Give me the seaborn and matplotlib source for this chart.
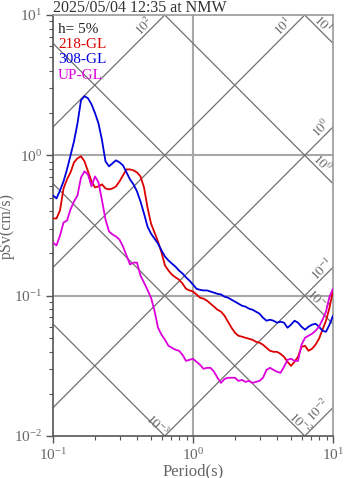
import numpy as np
import pandas as pd
import matplotlib
matplotlib.use("Agg")
import matplotlib.pyplot as plt
import seaborn as sns

# ---------------- data ----------------
period = [0.1, 0.1059, 0.1122, 0.1189, 0.1259, 0.1334, 0.1413, 0.1496, 0.1585, 0.1679,
          0.1778, 0.1884, 0.1995, 0.2113, 0.2239, 0.2371, 0.2512, 0.2661, 0.2818, 0.2985,
          0.3162, 0.3350, 0.3548, 0.3758, 0.3981, 0.4217, 0.4467, 0.4732, 0.5012, 0.5309,
          0.5623, 0.5957, 0.6310, 0.6683, 0.7079, 0.7499, 0.7943, 0.8414, 0.8913, 0.9441,
          1.0, 1.059, 1.122, 1.189, 1.259, 1.334, 1.413, 1.496, 1.585, 1.679,
          1.778, 1.884, 1.995, 2.113, 2.239, 2.371, 2.512, 2.661, 2.818, 2.985,
          3.162, 3.350, 3.548, 3.758, 3.981, 4.217, 4.467, 4.732, 5.012, 5.309,
          5.623, 5.957, 6.310, 6.683, 7.079, 7.499, 7.943, 8.414, 8.913, 9.441, 10.0]

psv_218 = [0.355, 0.355, 0.405, 0.581, 0.674, 0.756, 0.891, 0.952, 0.984, 0.906,
           0.769, 0.652, 0.591, 0.601, 0.621, 0.581, 0.572, 0.581, 0.601, 0.652,
           0.720, 0.794, 0.794, 0.781, 0.756, 0.708, 0.591, 0.425, 0.327, 0.282,
           0.243, 0.203, 0.164, 0.151, 0.141, 0.135, 0.130, 0.122, 0.112, 0.109,
           0.107, 0.102, 0.0968, 0.0952, 0.0921, 0.0877, 0.0835, 0.0794, 0.0769, 0.0720,
           0.0652, 0.0591, 0.0544, 0.0518, 0.0510, 0.0501, 0.0493, 0.0485, 0.0469, 0.0462,
           0.0447, 0.0425, 0.0405, 0.0398, 0.0398, 0.0385, 0.0367, 0.0338, 0.0316, 0.0338,
           0.0367, 0.0432, 0.0439, 0.0405, 0.0418, 0.0447, 0.0493, 0.0572, 0.0663, 0.0821, 0.109]

psv_308 = [0.518, 0.493, 0.562, 0.652, 0.794, 1.000, 1.26, 1.69, 2.47, 2.64,
           2.55, 2.31, 2.00, 1.69, 1.28, 0.906, 0.835, 0.877, 0.921, 0.891,
           0.848, 0.756, 0.674, 0.621, 0.553, 0.469, 0.385, 0.311, 0.277, 0.255,
           0.235, 0.210, 0.190, 0.178, 0.169, 0.161, 0.151, 0.144, 0.135, 0.128,
           0.120, 0.112, 0.110, 0.109, 0.109, 0.107, 0.105, 0.103, 0.102, 0.0984,
           0.0968, 0.0936, 0.0906, 0.0877, 0.0848, 0.0835, 0.0808, 0.0794, 0.0769, 0.0744,
           0.0696, 0.0663, 0.0674, 0.0663, 0.0642, 0.0652, 0.0642, 0.0591, 0.0621, 0.0663,
           0.0642, 0.0601, 0.0572, 0.0601, 0.0621, 0.0631, 0.0601, 0.0562, 0.0553, 0.0621, 0.0720]

psv_up = [0.239, 0.228, 0.268, 0.332, 0.343, 0.412, 0.469, 0.518, 0.696, 0.769,
          0.732, 0.601, 0.708, 0.642, 0.477, 0.349, 0.287, 0.273, 0.264, 0.251,
          0.224, 0.193, 0.167, 0.172, 0.172, 0.139, 0.124, 0.110, 0.0968, 0.0781,
          0.0591, 0.0527, 0.0485, 0.0439, 0.0425, 0.0412, 0.0405, 0.0379, 0.0343, 0.0349,
          0.0355, 0.0338, 0.0322, 0.0301, 0.0306, 0.0306, 0.0287, 0.0260, 0.0239, 0.0255,
          0.0260, 0.0260, 0.0260, 0.0247, 0.0251, 0.0243, 0.0247, 0.0239, 0.0243, 0.0247,
          0.0260, 0.0296, 0.0306, 0.0296, 0.0287, 0.0282, 0.0311, 0.0349, 0.0355, 0.0343,
          0.0343, 0.0447, 0.0501, 0.0518, 0.0535, 0.0562, 0.0601, 0.0674, 0.0769, 0.0984, 0.112]

components = ["218-GL", "308-GL", "UP-GL"]
colors = ["#dd0000", "#0000dd", "#dd00dd"]
title = "2025/05/04 12:35 at NMW"
damping_text = "h= 5%"

# tripartite reference lines
disp_levels = [1e-3, 1e-2, 1e-1, 1e0, 1e1]     # cm  (Sv = 2*pi*Sd/T)
acc_levels = [1e-2, 1e-1, 1e0, 1e1, 1e2]       # gal (Sv = Sa*T/(2*pi))
disp_label_text = [r"$10^{-3}$", r"$10^{-2}$", r"$10^{-1}$", r"$10^{0}$", r"$10^{1}$"]
disp_label_T = [0.553, 5.81, 7.81, 8.35, 8.35]
disp_label_Sv = [0.0118, 0.0122, 0.0921, 0.877, 8.62]
acc_label_text = [r"$10^{-2}$", r"$10^{-1}$", r"$10^{0}$", r"$10^{1}$", r"$10^{2}$"]
acc_label_T = [7.94, 8.35, 8.21, 4.39, 0.447]
acc_label_Sv = [0.0153, 0.153, 1.56, 8.21, 8.35]

# ---------------- style ----------------
sns.set_style("ticks")
plt.rcParams["font.family"] = ["Liberation Serif", "DejaVu Serif"]
plt.rcParams["mathtext.fontset"] = "stix"

gray_txt = "#666666"
fig = plt.figure(figsize=(3.47, 4.78), dpi=100)
ax = fig.add_axes([53 / 347, 1 - 436 / 478, 280 / 347, 421 / 478])
ax.set_xscale("log")
ax.set_yscale("log")

# grid lines
for v in [1.0]:
    ax.axvline(v, color="#a8a8a8", lw=1.5, zorder=1)
for h in [1.0, 0.1]:
    ax.axhline(h, color="#a8a8a8", lw=1.5, zorder=1)

# tripartite lines
Tl = np.array([0.01, 100.0])
for sd in disp_levels:
    ax.plot(Tl, 2 * np.pi * sd / Tl, color="#707070", lw=0.9, zorder=2)
for sa in acc_levels:
    ax.plot(Tl, sa * Tl / (2 * np.pi), color="#707070", lw=0.9, zorder=2)
for t, x, y in zip(disp_label_text, disp_label_T, disp_label_Sv):
    ax.text(x, y, t, rotation=-45, ha="center", va="center", fontsize=9.5,
            color=gray_txt, rotation_mode="anchor", zorder=3)
for t, x, y in zip(acc_label_text, acc_label_T, acc_label_Sv):
    ax.text(x, y, t, rotation=45, ha="center", va="center", fontsize=9.5,
            color=gray_txt, rotation_mode="anchor", zorder=3)

# spectra
df = pd.concat([
    pd.DataFrame({"Period": period, "pSv": vals, "Component": comp})
    for comp, vals in zip(components, [psv_218, psv_308, psv_up])
], ignore_index=True)
sns.lineplot(data=df, x="Period", y="pSv", hue="Component", hue_order=components,
             palette=colors, estimator=None, sort=False, legend=False, lw=1.3,
             ax=ax, zorder=4)

ax.set_xlim(0.1, 10)
ax.set_ylim(0.01, 10)

# spines / ticks
for s in ["left", "bottom"]:
    ax.spines[s].set_color("#555555")
    ax.spines[s].set_linewidth(1.2)
for s in ["top", "right"]:
    ax.spines[s].set_color("#999999")
    ax.spines[s].set_linewidth(1.2)
ax.tick_params(which="major", length=5, width=1, color="#555555", labelsize=11,
               labelcolor=gray_txt, direction="out", pad=3)
ax.tick_params(which="minor", length=3, width=0.8, color="#555555", direction="out")
ax.tick_params(top=False, right=False, which="both")

ax.set_xlabel("Period(s)", fontsize=12, color=gray_txt, labelpad=0)
ax.set_ylabel("pSv(cm/s)", fontsize=11.5, color=gray_txt)
ax.yaxis.set_label_coords(-0.136, 0.499)

# legend-like text
ax.text(0.018, 0.957, damping_text, transform=ax.transAxes, fontsize=11,
        color="#222222", va="baseline", zorder=5)
for i, (comp, c) in enumerate(zip(components, colors)):
    ax.text(0.018, 0.921 - 0.036 * i, comp, transform=ax.transAxes, fontsize=11,
            color=c, va="baseline", zorder=5)

fig.text(53 / 347, 1 - 12.5 / 478, title, fontsize=11.5, color="#333333",
         ha="left", va="baseline")

fig.savefig("out.png", dpi=100)
